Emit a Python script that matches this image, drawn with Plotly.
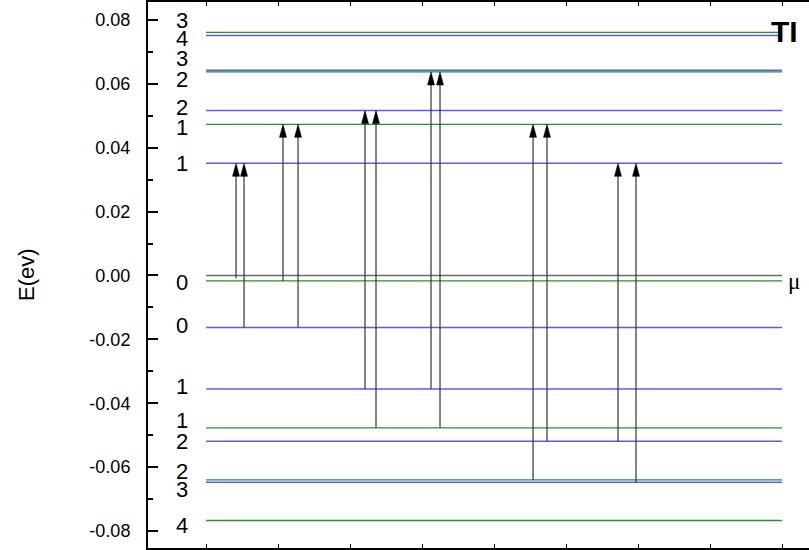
import plotly.graph_objects as go

# ---- data ----
blue_levels = [0.0751, 0.0642, 0.0516, 0.0351, -0.0163, -0.0355, -0.0519, -0.0647]
green_levels = [0.0761, 0.0637, 0.0473, -0.0017, -0.0477, -0.0640, -0.0767]
mu_level = 0.0

label_text = ["3", "4", "3", "2", "2", "1", "1", "0", "0", "1", "1", "2", "2", "3", "4"]
label_y = [0.0797, 0.0743, 0.0679, 0.0613, 0.0527, 0.0463, 0.0351, -0.0022, -0.0156,
           -0.0346, -0.0455, -0.0521, -0.0615, -0.0670, -0.0783]

arrow_x = [1.417, 1.528, 2.069, 2.278, 3.208, 3.361, 4.125, 4.25, 5.542, 5.736, 6.722, 6.972]
arrow_from = [-0.0009, -0.0163, -0.0017, -0.0163, -0.0355, -0.0477, -0.0355, -0.0477,
              -0.0640, -0.0519, -0.0519, -0.0647]
arrow_to = [0.0351, 0.0351, 0.0473, 0.0473, 0.0516, 0.0516, 0.0637, 0.0637,
            0.0473, 0.0473, 0.0351, 0.0351]

ytick_vals = [-0.08, -0.06, -0.04, -0.02, 0.0, 0.02, 0.04, 0.06, 0.08]
ytick_text = ["-0.08", "-0.06", "-0.04", "-0.02", "0.00", "0.02", "0.04", "0.06", "0.08"]

x_start, x_end = 1, 9
label_x = 0.667

FONT = "Liberation Sans, Arial, sans-serif"

fig = go.Figure()

def level_trace(ys, color, width):
    xs, yy = [], []
    for y in ys:
        xs += [x_start, x_end, None]
        yy += [y, y, None]
    return go.Scatter(x=xs, y=yy, mode="lines", line=dict(color=color, width=width),
                      hoverinfo="skip", showlegend=False)

fig.add_trace(level_trace(blue_levels, "#5a5aff", 1.5))
fig.add_trace(level_trace(green_levels, "#2a8f2a", 1.3))
fig.add_trace(level_trace([mu_level], "#6a6a6a", 1.5))

# arrow shafts
ax_, ay_ = [], []
for x, y0, y1 in zip(arrow_x, arrow_from, arrow_to):
    ax_ += [x, x, None]
    ay_ += [y0, y1 - 0.002, None]
fig.add_trace(go.Scatter(x=ax_, y=ay_, mode="lines", line=dict(color="#333333", width=1.2),
                         hoverinfo="skip", showlegend=False))

# arrow heads (pixel-sized paths anchored at tips)
for x, y1 in zip(arrow_x, arrow_to):
    fig.add_shape(type="path", xref="x", yref="y", xsizemode="pixel", ysizemode="pixel",
                  xanchor=x, yanchor=y1, path="M0,0 L-3.5,-13 L3.5,-13 Z",
                  fillcolor="black", line=dict(color="black", width=0.5))

# level labels
for t, y in zip(label_text, label_y):
    fig.add_annotation(x=label_x, y=y, text=t, showarrow=False, xanchor="center",
                       yanchor="middle", font=dict(family=FONT, size=22, color="black"))

fig.add_annotation(x=x_end + 0.16, y=mu_level - 0.0018, text="μ", showarrow=False,
                   xanchor="center", yanchor="middle",
                   font=dict(family="Liberation Serif, serif", size=23, color="black"))
fig.add_annotation(x=x_end + 0.04, y=0.0765, text="<b>TI</b>", showarrow=False,
                   xanchor="center", yanchor="middle",
                   font=dict(family=FONT, size=30, color="black"))
fig.add_annotation(xref="paper", yref="paper", x=(26 - 148) / 661, y=0.5, text="E(ev)",
                   textangle=-90, showarrow=False, xanchor="center", yanchor="middle",
                   font=dict(family=FONT, size=22, color="black"))

fig.update_layout(
    width=809, height=550,
    margin=dict(l=148, r=0, t=2, b=2),
    paper_bgcolor="white", plot_bgcolor="white",
    showlegend=False,
    xaxis=dict(range=[0.194, 9.375], showgrid=False, zeroline=False, showline=True,
               linecolor="black", linewidth=2, mirror="ticks", ticks="inside",
               ticklen=4, tickwidth=1, tickcolor="black", dtick=1, tick0=1,
               showticklabels=False),
    yaxis=dict(range=[-0.0853, 0.0856], showgrid=False, zeroline=False, showline=True,
               linecolor="black", linewidth=2, ticks="inside", ticklen=10, tickwidth=1.5,
               tickcolor="black", tickvals=ytick_vals, ticktext=ytick_text,
               tickfont=dict(family=FONT, size=18, color="black"), ticklabelstandoff=12,
               minor=dict(ticks="inside", ticklen=5, tickwidth=1.5, tickcolor="black",
                          dtick=0.01, tick0=0.0)),
)

fig.write_html("out.html")
